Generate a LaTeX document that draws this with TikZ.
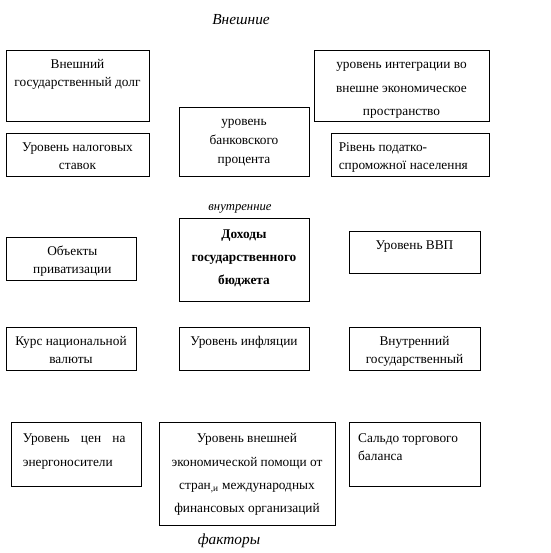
\documentclass[tikz,border=0pt]{standalone}
\usepackage{fontspec}
\setmainfont{Liberation Serif}
\usetikzlibrary{fit}
\newcommand\tstrut{\rule{0pt}{10pt}}

\begin{document}
\begin{tikzpicture}[x=0.75pt, y=-0.75pt,
        box/.style={draw, line width=0.7pt, inner sep=0pt},
        txt/.style={align=center, inner sep=0pt, anchor=north, font=\fontsize{10}{13.5}\selectfont},
        wide/.style={txt, font=\fontsize{10}{17.5}\selectfont},
        lefttxt/.style={txt, align=left, anchor=north west},
        head/.style={inner sep=0pt, font=\fontsize{11.5}{13}\selectfont\itshape},
    ]
    \useasboundingbox (0,0) rectangle (550,553);

    % Headings
    \node[head] (outer) at (241,20) {Внешние};
    \node[head, font=\fontsize{9.5}{11}\selectfont\itshape] (inner) at (240,209) {внутренние};
    \node[head] (factors) at (229,541) {факторы};

    % Top row: external factors
    \node[box, fit={(6,50) (149,121)}] (debt) {};
    \node[txt] (debt-t) at ([yshift=-4.25pt]debt.north) {\tstrut Внешний\\государственный долг};

    \node[box, fit={(6,133) (149,176)}] (tax) {};
    \node[txt] (tax-t) at ([yshift=-4.25pt]tax.north) {\tstrut Уровень налоговых\\ставок};

    \node[box, fit={(179,107) (309,176)}] (bank) {};
    \node[txt, font=\fontsize{10}{14}\selectfont] (bank-t) at ([yshift=-4.25pt]bank.north) {\tstrut уровень\\банковского\\процента};

    \node[box, fit={(314,50) (489,121)}] (integ) {};
    \node[wide] (integ-t) at ([yshift=-4.25pt]integ.north) {\tstrut уровень интеграции во\\внешне экономическое\\пространство};

    \node[box, fit={(331,133) (489,176)}] (pop) {};
    \node[lefttxt] (pop-t) at ([xshift=6pt, yshift=-4.25pt]pop.north west) {\tstrut Рівень податко-\\спроможної населення};

    % Middle rows: internal factors
    \node[box, fit={(6,237) (136,280)}] (priv) {};
    \node[txt] (priv-t) at ([xshift=1pt, yshift=-4.25pt]priv.north) {\tstrut Объекты\\приватизации};

    \node[box, fit={(179,218) (309,301)}] (budget) {};
    \node[wide, font=\fontsize{10}{17.5}\selectfont\bfseries] (budget-t) at ([yshift=-5.25pt]budget.north) {\tstrut Доходы\\государственного\\бюджета};

    \node[box, fit={(349,231) (480,273)}] (gdp) {};
    \node[txt] (gdp-t) at ([yshift=-3.75pt]gdp.north) {\tstrut Уровень ВВП};

    \node[box, fit={(6,327) (136,370)}] (rate) {};
    \node[txt] (rate-t) at ([yshift=-4.25pt]rate.north) {\tstrut Курс национальной\\валюты};

    \node[box, fit={(179,327) (309,370)}] (infl) {};
    \node[txt] (infl-t) at ([yshift=-4.25pt]infl.north) {\tstrut Уровень инфляции};

    \node[box, fit={(349,327) (480,370)}] (dom) {};
    \node[txt] (dom-t) at ([yshift=-4.25pt]dom.north) {\tstrut Внутренний\\государственный};

    % Bottom row
    \node[box, fit={(11,422) (141,486)}] (energy) {};
    \node[lefttxt, font=\fontsize{10}{17.5}\selectfont] (energy-t) at ([xshift=9pt, yshift=-5.75pt]energy.north west)
        {\tstrut\makebox[77pt][s]{Уровень цен на}\\энергоносители};

    \node[box, fit={(159,422) (335,525)}] (aid) {};
    \node[wide] (aid-t) at ([yshift=-5.75pt]aid.north) {\tstrut Уровень внешней\\экономической помощи от\\стран\textsubscript{,и} международных\\финансовых организаций};

    \node[box, fit={(349,422) (480,486)}] (trade) {};
    \node[lefttxt] (trade-t) at ([xshift=7pt, yshift=-5.75pt]trade.north west) {\tstrut Сальдо торгового\\баланса};

\end{tikzpicture}
\end{document}
